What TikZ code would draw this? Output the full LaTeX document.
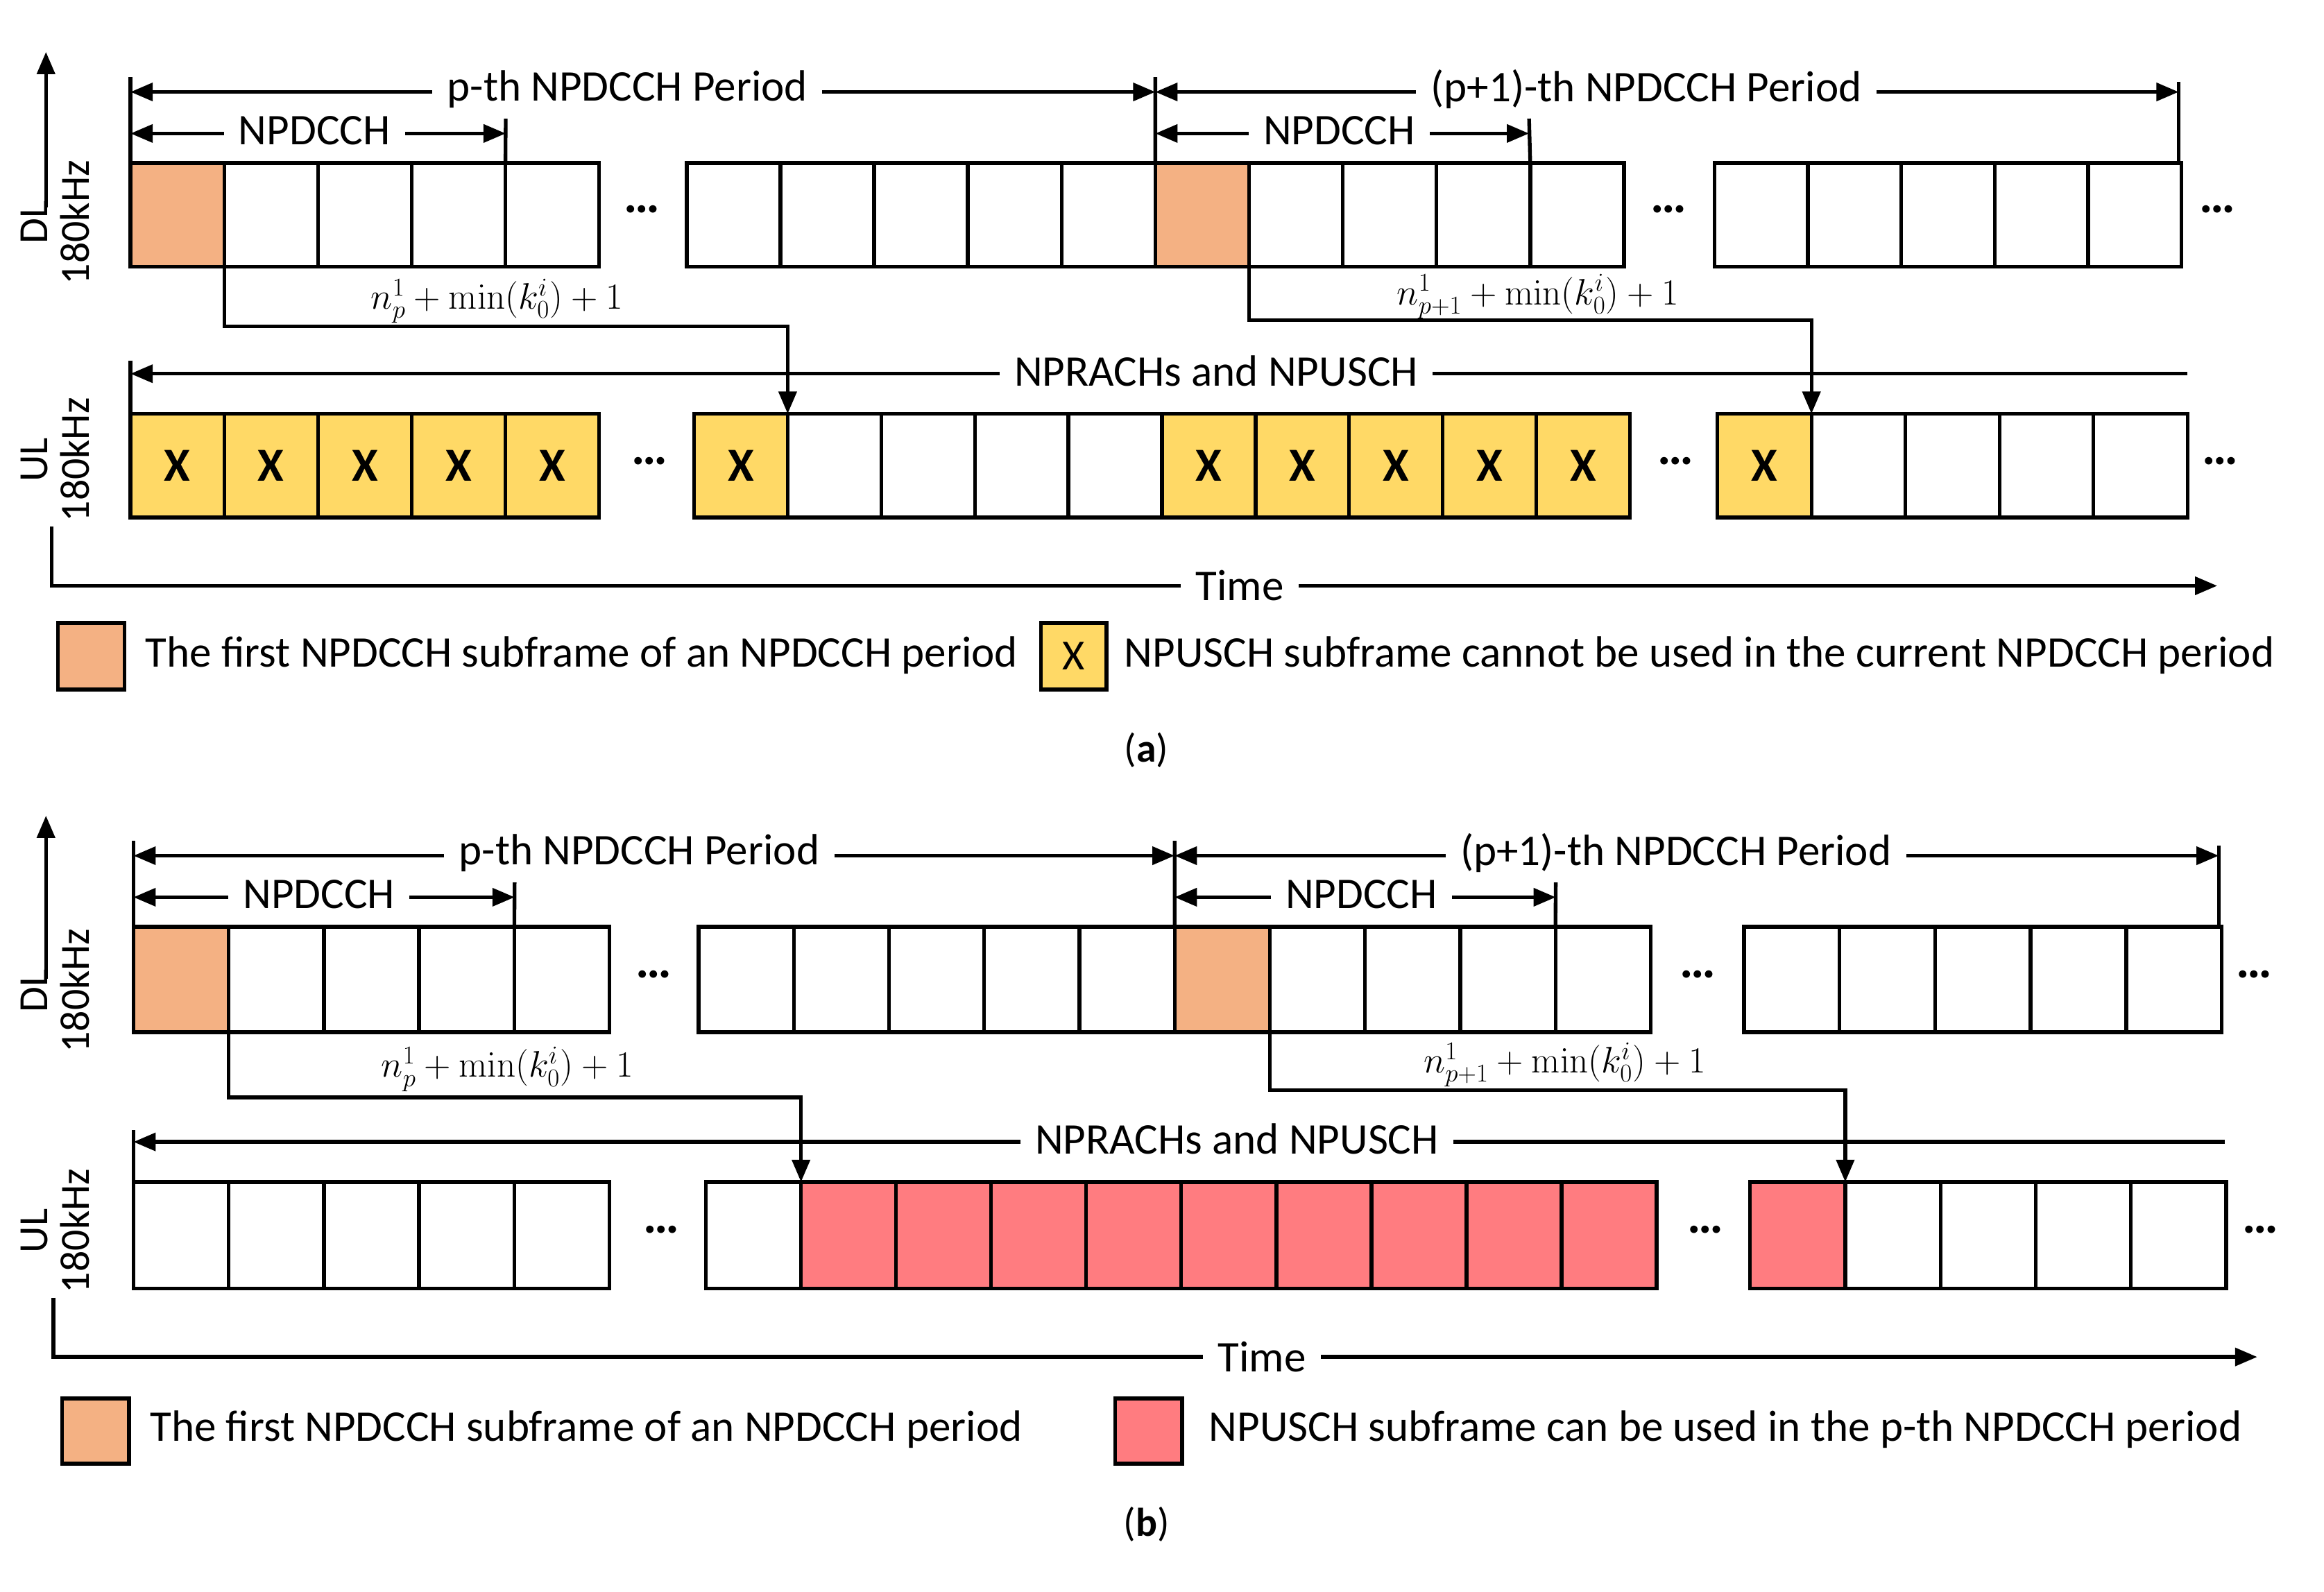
\documentclass[tikz,border=0pt]{standalone}
\usepackage[no-math]{fontspec}
\setmainfont{Carlito}
\usetikzlibrary{arrows.meta,calc}
\definecolor{cOr}{HTML}{F4B183}
\definecolor{cYe}{HTML}{FFD966}
\definecolor{cRe}{HTML}{FF7C80}
\newcommand{\mkcells}[7]{%
  \foreach \i in {1,...,#6}{%
    \node[cell,minimum width=#4pt,minimum height=#5pt,#7] (#1\i) at ({#2+(\i-1)*#4},#3) {};}}
\begin{document}
\begin{tikzpicture}[x=1pt,y=-1pt,
  cell/.style={draw,line width=2.5pt,anchor=north west,inner sep=0pt,outer sep=0pt,font=\fontsize{32}{34}\selectfont\bfseries},
  ln/.style={line width=2.5pt},
  tip/.style={-{Triangle[length=15pt,width=12pt]}},
  dtip/.style={{Triangle[length=15pt,width=12pt]}-{Triangle[length=15pt,width=12pt]}},
  lab/.style={fill=white,inner xsep=10pt,inner ysep=4pt,font=\fontsize{29.5}{31}\selectfont},
  mlab/.style={inner sep=1pt,font=\fontsize{23}{26}\selectfont},
  side/.style={rotate=90,align=center,font=\fontsize{28}{28}\selectfont},
  dots/.style={font=\fontsize{34}{34}\selectfont\bfseries},
  leg/.style={anchor=west,inner sep=0pt,font=\fontsize{29.5}{31}\selectfont},
  subcap/.style={font=\fontsize{27}{28}\selectfont}]
\useasboundingbox (0,0) rectangle (1567,1073.5);
\fill[white] (0,0) rectangle (1567,1073.5);

% ================= (a) =================
\mkcells{da}{88}{110}{63.2}{70}{5}{}
\node[cell,fill=cOr,minimum width=63.2pt,minimum height=70pt] at (88,110) {};
\node[dots] (dta1) at (433,141) {\dots};
\mkcells{db}{463}{110}{63.2}{70}{10}{}
\node[cell,fill=cOr,minimum width=63.2pt,minimum height=70pt] at (779,110) {};
\node[dots] (dta2) at (1125,141) {\dots};
\mkcells{dc}{1156}{110}{63}{70}{5}{}
\node[dots] (dta3) at (1495,141) {\dots};

\mkcells{ua}{88}{279}{63.2}{70}{5}{fill=cYe}
\foreach \i in {1,...,5}{\node[font=\fontsize{32}{34}\selectfont\bfseries] at (ua\i) {X};}
\node[dots] (dua1) at (438,311) {\dots};
\mkcells{ub}{468}{279}{63.1}{70}{10}{}
\node[cell,fill=cYe,minimum width=63.1pt,minimum height=70pt] (ubx) at (468,279) {X};
\foreach \i in {6,...,10}{\node[cell,fill=cYe,minimum width=63.1pt,minimum height=70pt] (uby\i) at ({468+(\i-1)*63.1},279) {X};}
\node[dots] (dua2) at (1130,311) {\dots};
\mkcells{uc}{1158}{279}{63.4}{70}{5}{}
\node[cell,fill=cYe,minimum width=63.4pt,minimum height=70pt] (ucx) at (1158,279) {X};
\node[dots] (dua3) at (1497,311) {\dots};

\coordinate (pa0) at (88,62); \coordinate (pa1) at (779,62); \coordinate (pa2) at (1469,62);
\draw[ln] (88,52) -- (da1.north west);
\draw[ln] (779,52) -- (db6.north west);
\draw[ln] (1469,55) -- (1469,110);
\draw[ln,dtip] (pa0) -- (pa1);
\draw[ln,dtip] (pa1) -- (pa2);
\node[lab] at (423,60) {p-th NPDCCH Period};
\node[lab] at (1110,60) {(p+1)-th NPDCCH Period};
\draw[ln] (341,80) -- (da5.north west);
\draw[ln,dtip] (88,90) -- (341,90);
\node[lab] at (212,88) {NPDCCH};
\draw[ln] (1031,80) -- (db10.north west);
\draw[ln,dtip] (779,90) -- (1031,90);
\node[lab] at (903,88) {NPDCCH};

\draw[ln,tip] (da1.south east) -- ++(0,40) -| (ubx.north east);
\node[mlab] at (335,203) {$n_p^1+\min(k_0^i)+1$};
\draw[ln,tip] (db6.south east) -- ++(0,36) -| (ucx.north east);
\node[mlab] at (1037,200) {$n_{p+1}^1+\min(k_0^i)+1$};

\draw[ln] (88,243) -- (ua1.north west);
\draw[ln,tip] (1475,252) -- (88,252);
\node[lab] at (820,250) {NPRACHs and NPUSCH};

\draw[ln,tip] (31,140) -- (31,35);
\draw[ln,tip] (35,355) |- (1495,395);
\node[lab] at (836,395) {Time};
\node[side] at (37,150) {DL\\180kHz};
\node[side] at (37,310) {UL\\180kHz};

\node[cell,fill=cOr,minimum width=45pt,minimum height=45pt] (lga1) at (39,420) {};
\node[leg] at (98,442) {The first NPDCCH subframe of an NPDCCH period};
\node[cell,fill=cYe,minimum width=44pt,minimum height=45pt,font=\fontsize{29}{30}\selectfont] (lga2) at (702,420) {X};
\node[leg] at (758,442) {NPUSCH subframe cannot be used in the current NPDCCH period};
\node[subcap] at (773,506) {(\textbf{a})};

% ================= (b) =================
\mkcells{ea}{90}{625}{64.2}{71}{5}{}
\node[cell,fill=cOr,minimum width=64.2pt,minimum height=71pt] at (90,625) {};
\node[dots] (dtb1) at (441,657) {\dots};
\mkcells{eb}{471}{625}{64.2}{71}{10}{}
\node[cell,fill=cOr,minimum width=64.2pt,minimum height=71pt] at (792,625) {};
\node[dots] (dtb2) at (1145,657) {\dots};
\mkcells{ec}{1176}{625}{64.4}{71}{5}{}
\node[dots] (dtb3) at (1520,657) {\dots};

\mkcells{va}{90}{797}{64.2}{72}{5}{}
\node[dots] (dvb1) at (446,829) {\dots};
\mkcells{vb}{476}{797}{64.1}{72}{10}{fill=cRe}
\node[cell,fill=white,minimum width=64.1pt,minimum height=72pt] (vbw) at (476,797) {};
\node[dots] (dvb2) at (1150,829) {\dots};
\mkcells{vc}{1180}{797}{64.2}{72}{5}{}
\node[cell,fill=cRe,minimum width=64.2pt,minimum height=72pt] (vcr) at (1180,797) {};
\node[dots] (dvb3) at (1524,829) {\dots};

\draw[ln] (90,567) -- (ea1.north west);
\draw[ln] (792,567) -- (eb6.north west);
\draw[ln] (1496,570) -- (1496,625);
\draw[ln,dtip] (90,577) -- (792,577);
\draw[ln,dtip] (792,577) -- (1496,577);
\node[lab] at (431,575) {p-th NPDCCH Period};
\node[lab] at (1130,575) {(p+1)-th NPDCCH Period};
\draw[ln] (347,595) -- (ea5.north west);
\draw[ln,dtip] (90,605) -- (347,605);
\node[lab] at (215,603) {NPDCCH};
\draw[ln] (1049,595) -- (eb10.north west);
\draw[ln,dtip] (792,605) -- (1049,605);
\node[lab] at (918,603) {NPDCCH};

\draw[ln,tip] (ea1.south east) -- ++(0,44) -| (vbw.north east);
\node[mlab] at (342,721) {$n_p^1+\min(k_0^i)+1$};
\draw[ln,tip] (eb6.south east) -- ++(0,39) -| (vcr.north east);
\node[mlab] at (1055,718) {$n_{p+1}^1+\min(k_0^i)+1$};

\draw[ln] (90,762) -- (va1.north west);
\draw[ln,tip] (1500,770) -- (90,770);
\node[lab] at (834,768) {NPRACHs and NPUSCH};

\draw[ln,tip] (31,660) -- (31,550);
\draw[ln,tip] (36,875) |- (1522,915);
\node[lab] at (851,915) {Time};
\node[side] at (37,668) {DL\\180kHz};
\node[side] at (37,830) {UL\\180kHz};

\node[cell,fill=cOr,minimum width=45pt,minimum height=44pt] (lgb1) at (42,943) {};
\node[leg] at (101,964) {The first NPDCCH subframe of an NPDCCH period};
\node[cell,fill=cRe,minimum width=45pt,minimum height=44pt] (lgb2) at (752,943) {};
\node[leg] at (815,964) {NPUSCH subframe can be used in the p-th NPDCCH period};
\node[subcap] at (773,1028) {(\textbf{b})};
\end{tikzpicture}
\end{document}
